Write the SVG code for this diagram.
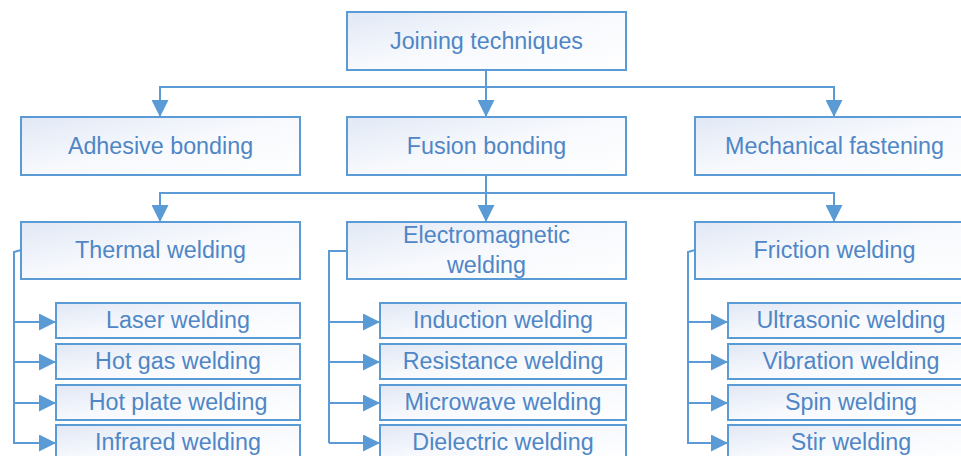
<svg xmlns="http://www.w3.org/2000/svg" width="961" height="456" viewBox="0 0 961 456">
  <defs>
    <linearGradient id="boxFill" x1="0" y1="0" x2="1" y2="1">
      <stop offset="0" stop-color="#e1e8f5"/>
      <stop offset="0.5" stop-color="#f7f9fd"/>
      <stop offset="1" stop-color="#ffffff"/>
    </linearGradient>
    <marker id="arrow" viewBox="0 0 10 10" refX="10" refY="5" markerWidth="8.5" markerHeight="8.5" orient="auto" markerUnits="strokeWidth">
      <path d="M0,0 L10,5 L0,10 Z" fill="#5b9bd5"/>
    </marker>
  </defs>
  <style>
    .box rect { fill: url(#boxFill); stroke: #5b9bd5; stroke-width: 2; }
    .box text { font-family: "Liberation Sans", Arial, sans-serif; font-size: 23.3px; fill: #4f86c6; text-anchor: middle; }
    .link { fill: none; stroke: #5b9bd5; stroke-width: 2; }
    .arr { marker-end: url(#arrow); }
  </style>

  <rect width="961" height="456" fill="#ffffff"/>

  <!-- connectors -->
  <g id="connectors">
    <!-- root to level 1 -->
    <path class="link" d="M486,70 V87"/>
    <path class="link" d="M160,87 H834"/>
    <path class="link arr" d="M160,86 V117"/>
    <path class="link arr" d="M486,86 V117"/>
    <path class="link arr" d="M834,86 V117"/>
    <!-- fusion bonding to level 2 -->
    <path class="link" d="M486,175 V193"/>
    <path class="link" d="M160,193 H834"/>
    <path class="link arr" d="M160,192 V222"/>
    <path class="link arr" d="M486,192 V222"/>
    <path class="link arr" d="M834,192 V222"/>
    <!-- thermal welding branch -->
    <path class="link" d="M21,250 L14,252 V443"/>
    <path class="link arr" d="M13,322 H56"/>
    <path class="link arr" d="M13,362 H56"/>
    <path class="link arr" d="M13,403 H56"/>
    <path class="link arr" d="M13,443 H56"/>
    <!-- electromagnetic welding branch -->
    <path class="link" d="M347,251 H329 V443"/>
    <path class="link arr" d="M329,322 H380"/>
    <path class="link arr" d="M329,362 H380"/>
    <path class="link arr" d="M329,403 H380"/>
    <path class="link arr" d="M329,443 H380"/>
    <!-- friction welding branch -->
    <path class="link" d="M695,250 L688,252 V443"/>
    <path class="link arr" d="M687,322 H728"/>
    <path class="link arr" d="M687,362 H728"/>
    <path class="link arr" d="M687,403 H728"/>
    <path class="link arr" d="M687,443 H728"/>
  </g>

  <!-- level 0 -->
  <g id="joining-techniques" class="box">
    <rect x="347" y="12" width="279" height="58"/>
    <text x="486.5" y="49">Joining techniques</text>
  </g>

  <!-- level 1 -->
  <g id="adhesive-bonding" class="box">
    <rect x="21" y="117" width="279" height="58"/>
    <text x="160.5" y="154">Adhesive bonding</text>
  </g>
  <g id="fusion-bonding" class="box">
    <rect x="347" y="117" width="279" height="58"/>
    <text x="486.5" y="154">Fusion bonding</text>
  </g>
  <g id="mechanical-fastening" class="box">
    <rect x="695" y="117" width="279" height="58"/>
    <text x="834.5" y="154">Mechanical fastening</text>
  </g>

  <!-- level 2 -->
  <g id="thermal-welding" class="box">
    <rect x="21" y="222" width="279" height="57"/>
    <text x="160.5" y="258">Thermal welding</text>
  </g>
  <g id="electromagnetic-welding" class="box">
    <rect x="347" y="222" width="279" height="57"/>
    <text x="486.5" y="243">Electromagnetic</text>
    <text x="486.5" y="273">welding</text>
  </g>
  <g id="friction-welding" class="box">
    <rect x="695" y="222" width="279" height="57"/>
    <text x="834.5" y="258">Friction welding</text>
  </g>

  <!-- thermal welding methods -->
  <g id="laser-welding" class="box">
    <rect x="56" y="303" width="244" height="35"/>
    <text x="178" y="328">Laser welding</text>
  </g>
  <g id="hot-gas-welding" class="box">
    <rect x="56" y="344" width="244" height="35"/>
    <text x="178" y="369">Hot gas welding</text>
  </g>
  <g id="hot-plate-welding" class="box">
    <rect x="56" y="385" width="244" height="35"/>
    <text x="178" y="410">Hot plate welding</text>
  </g>
  <g id="infrared-welding" class="box">
    <rect x="56" y="425" width="244" height="35"/>
    <text x="178" y="450">Infrared welding</text>
  </g>

  <!-- electromagnetic welding methods -->
  <g id="induction-welding" class="box">
    <rect x="380" y="303" width="246" height="35"/>
    <text x="503" y="328">Induction welding</text>
  </g>
  <g id="resistance-welding" class="box">
    <rect x="380" y="344" width="246" height="35"/>
    <text x="503" y="369">Resistance welding</text>
  </g>
  <g id="microwave-welding" class="box">
    <rect x="380" y="385" width="246" height="35"/>
    <text x="503" y="410">Microwave welding</text>
  </g>
  <g id="dielectric-welding" class="box">
    <rect x="380" y="425" width="246" height="35"/>
    <text x="503" y="450">Dielectric welding</text>
  </g>

  <!-- friction welding methods -->
  <g id="ultrasonic-welding" class="box">
    <rect x="728" y="303" width="246" height="35"/>
    <text x="851" y="328">Ultrasonic welding</text>
  </g>
  <g id="vibration-welding" class="box">
    <rect x="728" y="344" width="246" height="35"/>
    <text x="851" y="369">Vibration welding</text>
  </g>
  <g id="spin-welding" class="box">
    <rect x="728" y="385" width="246" height="35"/>
    <text x="851" y="410">Spin welding</text>
  </g>
  <g id="stir-welding" class="box">
    <rect x="728" y="425" width="246" height="35"/>
    <text x="851" y="450">Stir welding</text>
  </g>
</svg>
